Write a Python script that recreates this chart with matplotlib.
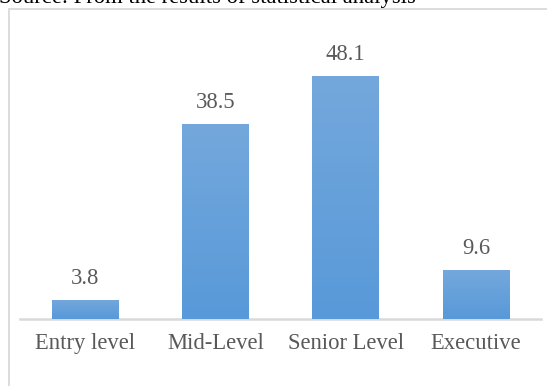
import numpy as np
import matplotlib
matplotlib.use("Agg")
import matplotlib.pyplot as plt
from matplotlib.patches import Rectangle
from matplotlib.colors import LinearSegmentedColormap

categories = ["Entry level", "Mid-Level", "Senior Level", "Executive"]
values = [3.8, 38.5, 48.1, 9.6]
source_note = "Source: From the results of statistical analysis"

W, H, DPI = 547, 386, 100
fig = plt.figure(figsize=(W / DPI, H / DPI), dpi=DPI)
fig.patch.set_facecolor("white")

serif = ["Liberation Serif", "DejaVu Serif"]
text_gray = "#595959"

def px(x, y):
    # pixel coordinates (from top-left) to figure fraction
    return x / W, 1 - y / H

# chart frame, running off the right and bottom edges
fx, fy = px(8.5, 8.5)
fig.add_artist(Rectangle((fx, -0.05), 1.1, fy + 0.05, transform=fig.transFigure,
                         fill=False, edgecolor="#D9D9D9", linewidth=1.3))

# source note above the frame
sx, sy = px(-1, 2.5)
fig.text(sx, sy, source_note, fontsize=16.3, family=serif, color="black",
         va="baseline", ha="left")

# plot area
left, right = 20, 541
base_y = 319
ppu = 5.06
ymax = 60
top_y = base_y - ymax * ppu
ax = fig.add_axes([left / W, 1 - base_y / H, (right - left) / W, (base_y - top_y) / H])
ax.set_xlim(-0.5, len(categories) - 0.5)
ax.set_ylim(0, ymax)
for s in ["left", "right", "top"]:
    ax.spines[s].set_visible(False)
ax.spines["bottom"].set_color("#D9D9D9")
ax.spines["bottom"].set_linewidth(1.8)
ax.set_yticks([])
x = np.arange(len(categories))
ax.set_xticks(x)
ax.set_xticklabels(categories, fontsize=16.3, family=serif, color=text_gray)
ax.tick_params(axis="x", length=0, pad=10)

bars = ax.bar(x, values, width=0.51, color="#5B9BD5", zorder=2)

cmap = LinearSegmentedColormap.from_list("bar", ["#5899D9", "#74A8DC"])
grad = np.linspace(0, 1, 256).reshape(-1, 1)
for b, v in zip(bars, values):
    bx = b.get_x()
    im = ax.imshow(grad, cmap=cmap, origin="lower", aspect="auto",
                   extent=(bx, bx + b.get_width(), 0, v), zorder=3)
    im.set_clip_path(b)
    ax.annotate(f"{v}", (b.get_x() + b.get_width() / 2, v), xytext=(0, 8),
                textcoords="offset points", ha="center", va="bottom",
                fontsize=16.3, family=serif, color=text_gray)

ax.set_xlim(-0.5, len(categories) - 0.5)
ax.set_ylim(0, ymax)

fig.savefig("out.png", dpi=DPI)
